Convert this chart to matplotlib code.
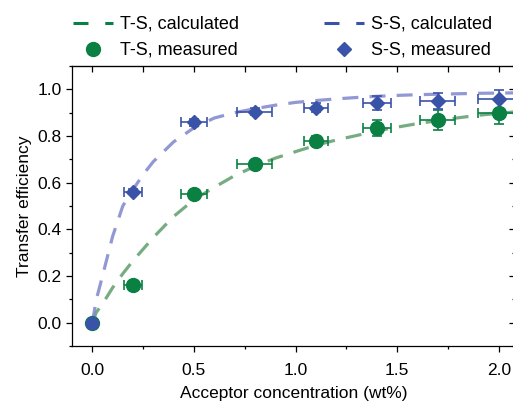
import matplotlib
matplotlib.use("Agg")
import matplotlib.pyplot as plt
from matplotlib.lines import Line2D
from matplotlib.ticker import MultipleLocator

plt.rcParams['font.family'] = ['Liberation Sans', 'DejaVu Sans']
plt.rcParams['font.size'] = 12.5

# calculated curves
calc_x = [0, 0.02, 0.05, 0.1, 0.15, 0.2, 0.25, 0.3, 0.4, 0.5, 0.6, 0.7, 0.8, 0.9,
          1.0, 1.1, 1.2, 1.3, 1.4, 1.5, 1.6, 1.7, 1.8, 1.9, 2.0, 2.1]
ts_calc = [0, 0.045, 0.08, 0.15, 0.21, 0.265, 0.315, 0.365, 0.455, 0.527, 0.58, 0.63,
           0.67, 0.705, 0.733, 0.76, 0.783, 0.802, 0.822, 0.838, 0.853, 0.866, 0.878,
           0.889, 0.897, 0.905]
ss_calc = [0, 0.10, 0.20, 0.37, 0.50, 0.57, 0.635, 0.69, 0.775, 0.835, 0.877, 0.90,
           0.917, 0.932, 0.944, 0.952, 0.959, 0.965, 0.97, 0.974, 0.977, 0.979, 0.981,
           0.983, 0.984, 0.985]

# measured
ts_x = [0, 0.2, 0.5, 0.8, 1.1, 1.4, 1.7, 2.0]
ts_y = [0, 0.16, 0.55, 0.68, 0.778, 0.835, 0.868, 0.90]
ts_xerr = [0, 0.043, 0.065, 0.086, 0.059, 0.07, 0.086, 0.1]
ts_yerr = [0, 0.01, 0.015, 0.015, 0.02, 0.034, 0.043, 0.05]

ss_x = [0.2, 0.5, 0.8, 1.1, 1.4, 1.7, 2.0]
ss_y = [0.562, 0.858, 0.905, 0.921, 0.943, 0.95, 0.957]
ss_xerr = [0.043, 0.065, 0.086, 0.059, 0.07, 0.086, 0.1]
ss_yerr = [0.012, 0.015, 0.015, 0.02, 0.03, 0.034, 0.04]

origin_x = [0]
origin_y = [0]

green = '#0a8043'
blue = '#3953a8'
green_c = '#5f9e6c'
blue_c = '#7e86cc'

fig = plt.figure(figsize=(5.13, 4.03), dpi=100)
ax = fig.add_axes([72/513, 57/403, (515-72)/513, (346-66)/403])

ax.plot(calc_x, ts_calc, ls=(0, (5, 3.5)), color=green_c, lw=2.3, alpha=0.85, zorder=1)
ax.plot(calc_x, ss_calc, ls=(0, (5, 3.5)), color=blue_c, lw=2.3, alpha=0.85, zorder=1)

ax.errorbar(ts_x, ts_y, xerr=ts_xerr, yerr=ts_yerr, fmt='o', color=green, ms=10,
            capsize=3.5, elinewidth=1.2, capthick=1.2, zorder=3)
ax.errorbar(ss_x, ss_y, xerr=ss_xerr, yerr=ss_yerr, fmt='D', color=blue, ms=7.5,
            capsize=3.5, elinewidth=1.2, capthick=1.2, zorder=3)
ax.plot(origin_x, origin_y, 'o', color=blue, ms=9, zorder=4)

ax.set_xlim(-0.1, 2.08)
ax.set_ylim(-0.1, 1.1)
ax.xaxis.set_major_locator(MultipleLocator(0.5))
ax.xaxis.set_minor_locator(MultipleLocator(0.25))
ax.yaxis.set_major_locator(MultipleLocator(0.2))
ax.yaxis.set_minor_locator(MultipleLocator(0.1))
ax.tick_params(which='both', direction='out', width=0.9, top=False, right=False)
ax.tick_params(which='major', length=4)
ax.tick_params(which='minor', length=2.5)
ax.tick_params(axis='x', which='major', pad=8)
for s in ax.spines.values():
    s.set_linewidth(0.9)

axt = ax.secondary_xaxis('top')
axt.xaxis.set_major_locator(MultipleLocator(0.25))
axt.tick_params(direction='in', length=4, width=0.9, labeltop=False)
axr = ax.secondary_yaxis('right')
axr.yaxis.set_major_locator(MultipleLocator(0.2))
axr.yaxis.set_minor_locator(MultipleLocator(0.1))
axr.tick_params(which='both', direction='in', width=0.9, labelright=False)
axr.tick_params(which='major', length=4)
axr.tick_params(which='minor', length=2.5)

ax.set_xlabel('Acceptor concentration (wt%)', labelpad=6)
ax.set_ylabel('Transfer efficiency', labelpad=4)

handles = [
    Line2D([], [], ls=(0, (4.9, 5.5)), color=green, lw=2.2),
    Line2D([], [], ls='none', marker='o', color=green, ms=10),
    Line2D([], [], ls=(0, (4.9, 5.5)), color=blue, lw=2.2),
    Line2D([], [], ls='none', marker='D', color=blue, ms=7.5),
]
labels = ['T-S, calculated', 'T-S, measured', 'S-S, calculated', 'S-S, measured']
fig.legend(handles, labels, ncol=2, frameon=False, loc='upper left',
           bbox_to_anchor=(0.118, 0.992), handlelength=2.2, handletextpad=0.4,
           columnspacing=4.7, labelspacing=0.5, borderpad=0.2, fontsize=13)

fig.savefig('out.png', dpi=100)
